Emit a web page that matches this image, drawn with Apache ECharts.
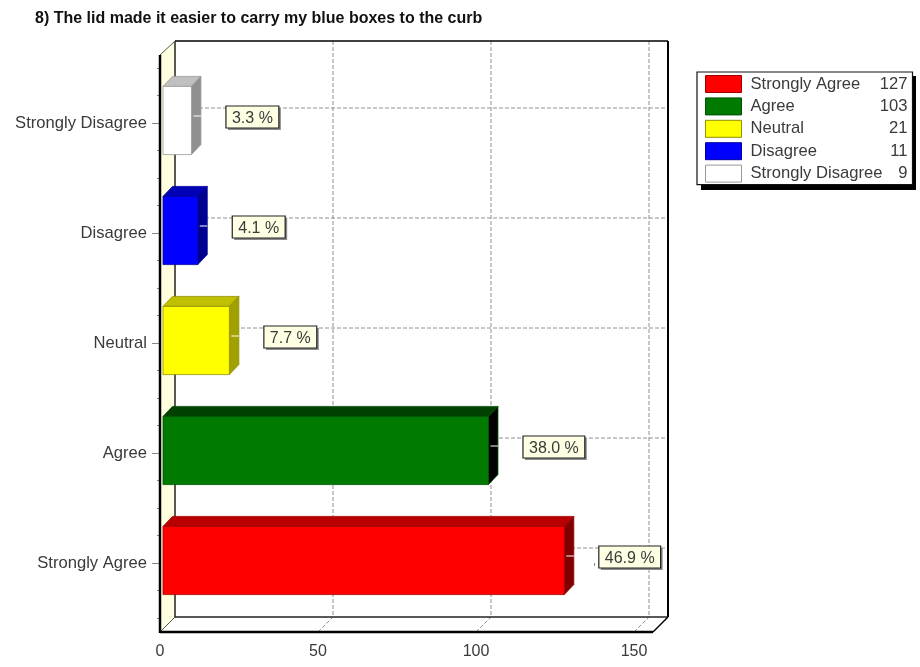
<!DOCTYPE html>
<html>
<head>
<meta charset="utf-8">
<style>html,body{margin:0;padding:0;background:#fff}#chart{width:920px;height:667px}</style>
<script src="https://cdn.jsdelivr.net/npm/echarts@6/dist/echarts.min.js"></script>
</head>
<body>
<div id="chart"></div>
<script>
// Survey responses, bottom row first
const categories = ['Strongly Agree', 'Agree', 'Neutral', 'Disagree', 'Strongly Disagree'];
const counts = [127, 103, 21, 11, 9];
const percentLabels = ['46.9 %', '38.0 %', '7.7 %', '4.1 %', '3.3 %'];
const frontColors = ['#ff0000', '#007a00', '#ffff00', '#0000ff', '#ffffff'];
const topColors = ['#b80000', '#004000', '#c0c000', '#0000b4', '#c0c0c0'];
const sideColors = ['#800000', '#000000', '#a0a000', '#000090', '#909090'];
const edgeColors = ['#a00000', '#005000', '#909000', '#0000a0', '#999999'];
const xTicks = [50, 100, 150];

const FONT = '"Liberation Sans", Arial, sans-serif';
const TEXT = '#3a3a3a';
const WALL_DEPTH = 15;    // pseudo-3D offset of the back wall
const BAR_DEPTH = 9.5;    // pseudo-3D offset of each bar's back face
const BAR_SHIFT = 3;      // bars stand slightly in front of the axis plane
const GRID = '#909090';

const measure = document.createElement('canvas').getContext('2d');
measure.font = '16px ' + FONT;

// Back wall, left wall, floor edges and dashed gridlines, all placed from the axis scales
function renderFrame(params, api) {
  const d = WALL_DEPTH;
  const x0 = api.coord([0, 0])[0];
  const x1 = api.coord([150, 0])[0] + 19;
  const yBottom = api.coord([0, -0.5])[1] + 14;
  const yTop = api.coord([0, 4.5])[1] - 13;
  const line = (a, b, c, e, color, width, dash) => ({
    type: 'line',
    shape: { x1: a, y1: b, x2: c, y2: e },
    style: { stroke: color, lineWidth: width, lineDash: dash || null }
  });
  const children = [{
    type: 'polygon',
    shape: { points: [[x0, yTop], [x0 + d, yTop - d + 1], [x0 + d, yBottom - d], [x0, yBottom]] },
    style: { fill: '#ffffe0', stroke: null }
  }];
  categories.forEach((c, i) => {
    const y = api.coord([0, i])[1] - d;
    children.push(line(x0 + d, y, x1 + d, y, GRID, 1, [4, 2]));
  });
  xTicks.forEach(t => {
    const x = api.coord([t, 0])[0];
    children.push(line(x + d, yTop - d + 1, x + d, yBottom - d, GRID, 1, [4, 2]));
    children.push(line(x, yBottom, x + d, yBottom - d, GRID, 1, [4, 2]));
  });
  children.push(
    line(x0 + d, yTop - d + 1, x1 + d, yTop - d + 1, '#000', 1.5),
    line(x1 + d, yTop - d + 1, x1 + d, yBottom - d, '#000', 2),
    line(x0 + d, yBottom - d, x1 + d, yBottom - d, '#222', 1.5),
    line(x0 + d, yTop - d + 1, x0 + d, yBottom - d, '#222', 1.5),
    line(x0, yTop, x0 + d, yTop - d + 1, '#555', 1),
    line(x0, yBottom, x0 + d, yBottom - d, '#555', 1),
    line(x1, yBottom, x1 + d, yBottom - d, '#000', 1.5),
    line(x0, yTop, x0, yBottom + 1, '#000', 2.5),
    line(x0, yBottom, x1, yBottom, '#000', 2.5)
  );
  return { type: 'group', children };
}

// One extruded bar with its leader dash and percentage tag
function renderBar(i) {
  return function (params, api) {
    const end = api.coord([api.value(0), api.value(1)]);
    const start = api.coord([0, api.value(1)]);
    const h = api.size([0, 1])[1] * 0.62;
    const d = BAR_DEPTH;
    const l = start[0] + BAR_SHIFT;
    const r = end[0] + BAR_SHIFT;
    const t = end[1] - 2.5 - h / 2;
    const b = t + h;
    const poly = (points, fill) => ({ type: 'polygon', shape: { points }, style: { fill, stroke: edgeColors[i], lineWidth: 0.8 } });
    const label = percentLabels[i];
    const w = measure.measureText(label).width + 12;
    const boxX = r + d + 25;
    const boxY = end[1] - 17;
    return {
      type: 'group',
      children: [
        poly([[l, t], [l + d, t - d - 0.5], [r + d, t - d - 0.5], [r, t]], topColors[i]),
        poly([[r, t], [r + d, t - d - 0.5], [r + d, b - d - 0.5], [r, b]], sideColors[i]),
        poly([[l, t], [r, t], [r, b], [l, b]], frontColors[i]),
        { type: 'line', shape: { x1: r + 2, y1: end[1] - 7, x2: r + d, y2: end[1] - 7 }, style: { stroke: '#fff', lineWidth: 1 } },
        { type: 'rect', shape: { x: boxX + 2, y: boxY + 2, width: w, height: 22 }, style: { fill: '#8a8a8a' } },
        { type: 'rect', shape: { x: boxX, y: boxY, width: w, height: 22 }, style: { fill: '#ffffe4', stroke: '#222', lineWidth: 1.2 } },
        { type: 'text', x: boxX + w / 2, y: boxY + 12.5, style: { text: label, font: '16px ' + FONT, fill: TEXT, align: 'center', verticalAlign: 'middle' } }
      ]
    };
  };
}

const chart = echarts.init(document.getElementById('chart'), null, { renderer: 'canvas' });

const barSeries = categories.map((name, i) => ({
  type: 'custom',
  name,
  xAxisIndex: 0,
  yAxisIndex: 0,
  z: 3,
  silent: true,
  animation: false,
  itemStyle: { color: frontColors[i] },
  encode: { x: 0, y: 1 },
  data: [[counts[i], i]],
  renderItem: renderBar(i)
}));

chart.setOption({
  animation: false,
  backgroundColor: '#fff',
  title: {
    text: '8) The lid made it easier to carry my blue boxes to the curb',
    left: 35,
    top: 11,
    padding: 0,
    textStyle: { fontFamily: FONT, fontSize: 16, fontWeight: 'bold', color: '#111', letterSpacing: -0.29 }
  },
  // Drop shadow behind the legend box
  graphic: [{
    type: 'rect',
    z: 0,
    shape: { x: 701, y: 76, width: 215, height: 114 },
    style: { fill: '#000' }
  }],
  grid: { left: 160, top: 68, width: 474, height: 550 },
  xAxis: {
    type: 'value',
    min: 0,
    max: 150,
    interval: 50,
    offset: 14,
    axisLine: { show: false },
    axisTick: { show: true, length: 6, lineStyle: { color: '#888' } },
    minorTick: { show: true, splitNumber: 4, length: 3, lineStyle: { color: '#888' } },
    splitLine: { show: false },
    minorSplitLine: { show: false },
    axisLabel: { fontFamily: FONT, fontSize: 16, color: TEXT, margin: 12 }
  },
  yAxis: [
    {
      type: 'category',
      data: categories,
      axisLine: { show: false },
      axisTick: { show: true, alignWithLabel: true, interval: 0, length: 8, lineStyle: { color: '#888' } },
      splitLine: { show: false },
      axisLabel: { fontFamily: FONT, fontSize: 16.6, color: TEXT, margin: 13, interval: 0, padding: [3, 0, 0, 0] }
    },
    {
      type: 'value',
      position: 'left',
      min: -0.5,
      max: 4.5,
      interval: 0.25,
      axisLine: { show: false },
      axisTick: { show: true, length: 3, lineStyle: { color: '#888' } },
      axisLabel: { show: false },
      splitLine: { show: false }
    }
  ],
  legend: {
    orient: 'vertical',
    left: 697,
    top: 72,
    padding: [3, 5, 2, 8],
    itemWidth: 36,
    itemHeight: 17,
    itemGap: 4.4,
    icon: 'rect',
    selectedMode: false,
    backgroundColor: '#fff',
    borderColor: '#111',
    borderWidth: 1.2,
    data: categories.map((name, i) => ({
      name,
      itemStyle: { color: frontColors[i], borderColor: edgeColors[i], borderWidth: 1 }
    })),
    formatter: name => `{n|${name}}{v|${counts[categories.indexOf(name)]}}`,
    textStyle: {
      rich: {
        n: { fontFamily: FONT, fontSize: 16.6, color: TEXT, width: 133, padding: [0, 0, 0, 4], lineHeight: 16 },
        v: { fontFamily: FONT, fontSize: 16.6, color: TEXT, width: 24, align: 'right', padding: [0, 0, 0, 0], lineHeight: 16 }
      }
    }
  },
  series: [{
    type: 'custom',
    name: 'frame',
    xAxisIndex: 0,
    yAxisIndex: 1,
    z: 1,
    silent: true,
    animation: false,
    data: [[0, 0]],
    renderItem: renderFrame
  }].concat(barSeries)
});
</script>
</body>
</html>
